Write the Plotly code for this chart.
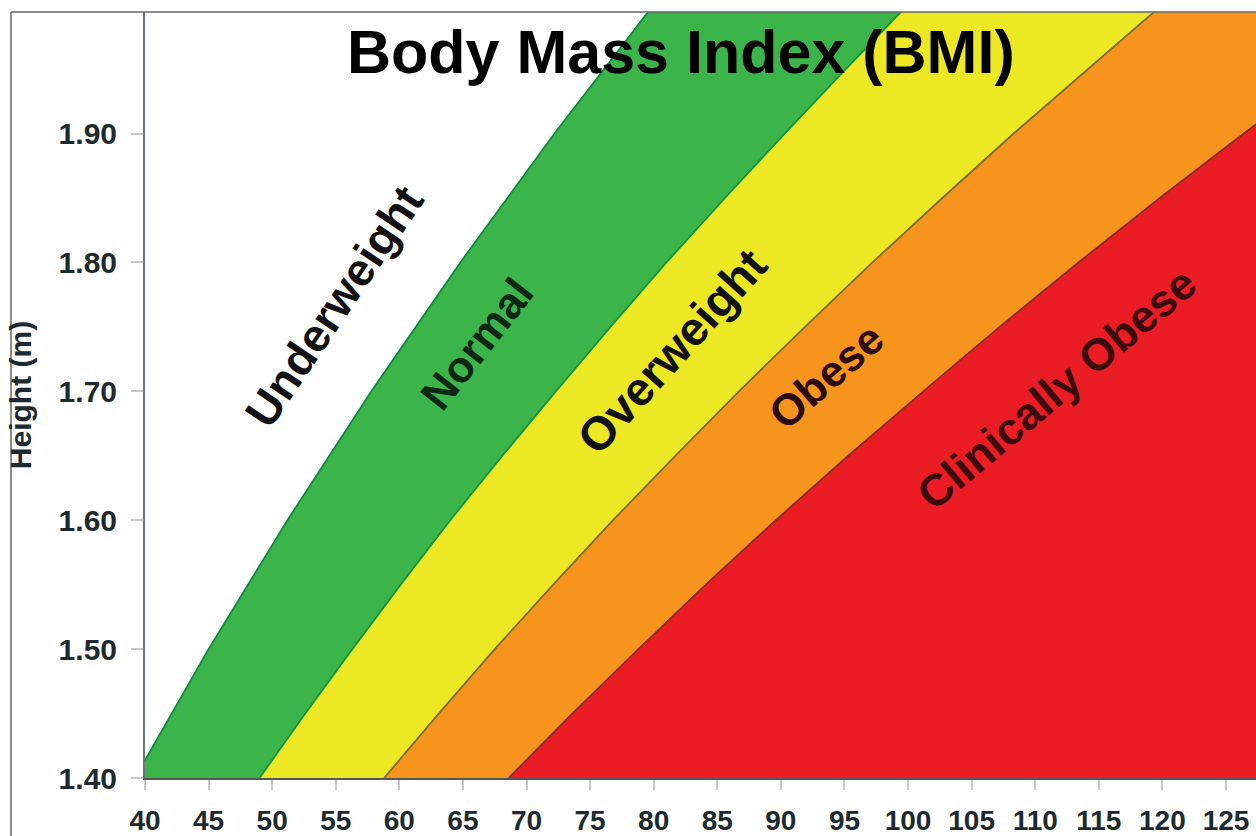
import plotly.graph_objects as go

# ---------------- data ----------------
heights = [1.40, 1.45, 1.50, 1.55, 1.60, 1.65, 1.70, 1.75, 1.80, 1.85, 1.90, 1.95, 2.00]

# weight (kg) of each band boundary at the heights above
w_bmi20 = [39.2, 42.1, 45.0, 48.1, 51.2, 54.5, 57.8, 61.3, 64.8, 68.5, 72.2, 76.1, 80.0]
w_bmi25 = [49.0, 52.6, 56.3, 60.1, 64.0, 68.1, 72.3, 76.6, 81.0, 85.6, 90.3, 95.1, 100.0]
w_bmi30 = [58.8, 63.1, 67.5, 72.1, 76.8, 81.7, 86.7, 91.9, 97.2, 102.7, 108.3, 114.1, 120.0]
w_bmi35 = [68.6, 73.6, 78.8, 84.1, 89.6, 95.3, 101.2, 107.2, 113.4, 119.8, 126.4, 133.1, 140.0]

band_names = ["Underweight", "Normal", "Overweight", "Obese", "Clinically Obese"]
x_tick_vals = [40, 45, 50, 55, 60, 65, 70, 75, 80, 85, 90, 95, 100, 105, 110, 115, 120, 125]
y_tick_vals = [1.40, 1.50, 1.60, 1.70, 1.80, 1.90]
title_text = "Body Mass Index (BMI)"
y_title = "Height (m)"

# ---------------- styling ----------------
FONT = "Liberation Sans, Arial, sans-serif"
band_fill = {"Normal": "#3bb54a", "Overweight": "#ede824", "Obese": "#f7941d",
             "Clinically Obese": "#ec1c24"}
boundary_color = ["#0b8a3c", "#0f9440", "#7d6a2c", "#8a2a14"]
label_color = {"Underweight": "#111111", "Normal": "#0c2616", "Overweight": "#111111",
               "Obese": "#2a0b10", "Clinically Obese": "#3a0a0e"}

X_RANGE = [40, 127.36]
Y_RANGE = [1.40, 1.9943]
FAR_RIGHT = 150  # red region extends beyond the visible edge

fig = go.Figure()

def add_band(left, right, color, name):
    xs = list(left) + list(right)[::-1]
    ys = list(heights) + list(heights)[::-1]
    fig.add_trace(go.Scatter(x=xs, y=ys, fill="toself", fillcolor=color, mode="none",
                             name=name, hoverinfo="skip", showlegend=False))

add_band(w_bmi20, w_bmi25, band_fill["Normal"], "Normal")
add_band(w_bmi25, w_bmi30, band_fill["Overweight"], "Overweight")
add_band(w_bmi30, w_bmi35, band_fill["Obese"], "Obese")
fig.add_trace(go.Scatter(x=list(w_bmi35) + [FAR_RIGHT, FAR_RIGHT],
                         y=list(heights) + [heights[-1], heights[0]],
                         fill="toself", fillcolor=band_fill["Clinically Obese"], mode="none",
                         name="Clinically Obese", hoverinfo="skip", showlegend=False))

for w, c in zip([w_bmi20, w_bmi25, w_bmi30, w_bmi35], boundary_color):
    fig.add_trace(go.Scatter(x=w, y=heights, mode="lines", line=dict(color=c, width=1.8),
                             hoverinfo="skip", showlegend=False))

# rotated band labels (position in data coords, angle, font size)
label_layout = {
    "Underweight": (54.9, 1.766, -56, 46),
    "Normal": (66.1, 1.737, -52, 44),
    "Overweight": (81.4, 1.731, -48, 47),
    "Obese": (93.6, 1.712, -41, 44),
    "Clinically Obese": (111.7, 1.702, -40, 45),
}
for name in band_names:
    x, y, ang, size = label_layout[name]
    fig.add_annotation(x=x, y=y, xref="x", yref="y", text=name, showarrow=False,
                       textangle=ang, xanchor="center", yanchor="middle",
                       font=dict(family=FONT, size=size, color=label_color[name], weight="bold"))

# title
fig.add_annotation(x=0.4825, y=0.948, xref="paper", yref="paper", text=title_text,
                   showarrow=False, xanchor="center", yanchor="middle",
                   font=dict(family=FONT, size=61, color="#000000", weight="bold"))

# outer frame lines (left and top)
fx = (11 - 145) / 1111
fig.add_shape(type="line", xref="paper", yref="paper", x0=fx, x1=1.02, y0=1.0, y1=1.0,
              line=dict(color="#666666", width=1.5))
fig.add_shape(type="line", xref="paper", yref="paper", x0=fx, x1=fx, y0=1.0, y1=-0.12,
              line=dict(color="#666666", width=1.5))

fig.update_layout(
    width=1256, height=836,
    margin=dict(l=145, r=0, t=12, b=58),
    paper_bgcolor="white", plot_bgcolor="white",
    showlegend=False, hovermode=False,
    xaxis=dict(range=X_RANGE, tickmode="array", tickvals=x_tick_vals,
               ticktext=[str(v) for v in x_tick_vals], automargin=False,
               showgrid=False, zeroline=False, showline=True, linecolor="#555555", linewidth=2,
               ticks="outside", ticklen=10, tickwidth=1.5, tickcolor="#c4c9cc",
               ticklabelstandoff=6,
               tickfont=dict(family=FONT, size=28, color="#1d2a2e", weight="bold")),
    yaxis=dict(range=Y_RANGE, tickmode="array", tickvals=y_tick_vals,
               ticktext=["%.2f" % v for v in y_tick_vals], automargin=False,
               showgrid=False, zeroline=False, showline=True, linecolor="#6a767c", linewidth=2,
               ticks="outside", ticklen=12, tickwidth=1.5, tickcolor="#c4c9cc",
               ticklabelstandoff=8,
               tickfont=dict(family=FONT, size=30, color="#1d2a2e", weight="bold"),
               title=dict(text=y_title, standoff=18,
                          font=dict(family=FONT, size=30, color="#1d2a2e", weight="bold"))),
)

# remove the default 8px page margin so the figure fills the window exactly
fig.write_html("out.html",
               config={"displayModeBar": False},
               post_script="document.body.style.margin='0';document.body.style.overflow='hidden';")
